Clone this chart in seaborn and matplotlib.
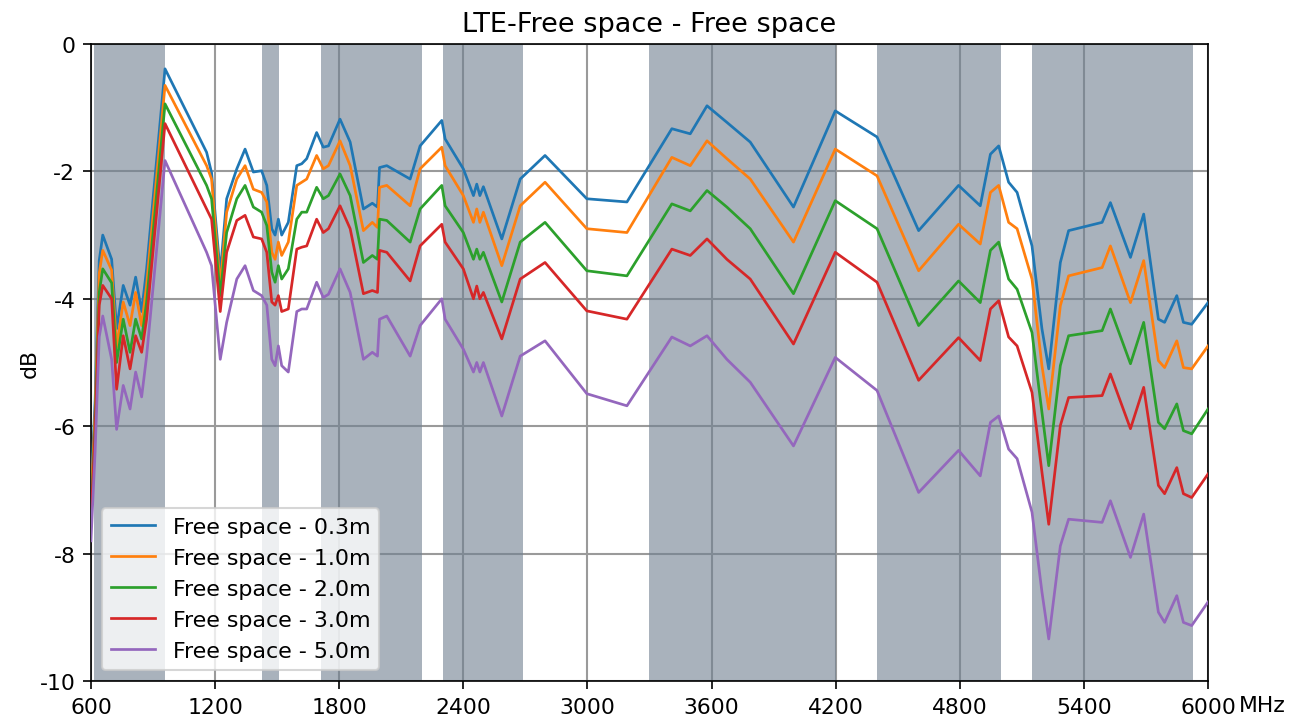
import matplotlib
matplotlib.use("Agg")
import matplotlib.pyplot as plt
import seaborn as sns
import pandas as pd

plt.rcParams['axes.unicode_minus'] = False

# measured frequencies (MHz)
freq = [600, 620, 640, 657, 700, 724, 756, 789, 816, 845,
        869, 958, 1159, 1183, 1225, 1256, 1305, 1345, 1385, 1425,
        1450, 1474, 1490, 1506, 1522, 1554, 1595, 1619, 1643, 1691,
        1723, 1748, 1804, 1853, 1917, 1960, 1985, 1995, 2030, 2143,
        2191, 2296, 2312, 2400, 2449, 2465, 2480, 2497, 2586, 2675,
        2795, 2997, 3191, 3408, 3497, 3578, 3674, 3787, 3996, 4198,
        4400, 4601, 4794, 4899, 4948, 4988, 5036, 5077, 5149, 5197,
        5230, 5286, 5326, 5488, 5528, 5625, 5689, 5760, 5790, 5849,
        5881, 5921, 6000]

fs_03 = [-7.0, -5.6, -3.4, -3.0, -3.38, -4.47, -3.79, -4.1, -3.66, -4.2,
         -3.53, -0.39, -1.7, -2.02, -3.6, -2.43, -1.96, -1.65, -2.01, -1.99,
         -2.22, -2.9, -3.0, -2.75, -3.0, -2.8, -1.91, -1.88, -1.8, -1.39,
         -1.62, -1.6, -1.18, -1.54, -2.59, -2.5, -2.56, -1.94, -1.91, -2.12,
         -1.6, -1.2, -1.49, -1.96, -2.38, -2.2, -2.38, -2.24, -3.06, -2.12,
         -1.75, -2.43, -2.48, -1.33, -1.41, -0.97, -1.23, -1.54, -2.56, -1.05,
         -1.46, -2.93, -2.22, -2.54, -1.73, -1.6, -2.17, -2.33, -3.17, -4.47,
         -5.1, -3.43, -2.93, -2.8, -2.49, -3.35, -2.67, -4.32, -4.37, -3.95,
         -4.37, -4.4, -4.06]

fs_10 = [-7.2, -5.8, -3.6, -3.24, -3.55, -4.76, -4.05, -4.42, -3.9, -4.42,
         -3.79, -0.65, -1.91, -2.12, -3.8, -2.64, -2.12, -1.91, -2.28, -2.33,
         -2.48, -3.27, -3.38, -3.11, -3.32, -3.11, -2.22, -2.17, -2.12, -1.75,
         -1.96, -1.91, -1.52, -1.91, -2.93, -2.8, -2.88, -2.25, -2.22, -2.54,
         -1.96, -1.62, -1.91, -2.38, -2.8, -2.59, -2.8, -2.64, -3.48, -2.54,
         -2.17, -2.9, -2.96, -1.78, -1.91, -1.52, -1.8, -2.12, -3.11, -1.65,
         -2.07, -3.56, -2.83, -3.14, -2.33, -2.22, -2.8, -2.9, -3.69, -5.05,
         -5.73, -4.11, -3.64, -3.51, -3.17, -4.06, -3.4, -4.97, -5.08, -4.66,
         -5.08, -5.1, -4.74]

fs_20 = [-7.4, -6.0, -3.9, -3.53, -3.75, -5.0, -4.32, -4.84, -4.32, -4.63,
         -4.05, -0.94, -2.22, -2.43, -3.95, -2.96, -2.43, -2.22, -2.56, -2.64,
         -2.85, -3.58, -3.74, -3.48, -3.69, -3.53, -2.75, -2.64, -2.64, -2.25,
         -2.43, -2.38, -2.04, -2.38, -3.43, -3.32, -3.38, -2.75, -2.77, -3.11,
         -2.59, -2.22, -2.54, -2.96, -3.38, -3.22, -3.38, -3.27, -4.05, -3.11,
         -2.8, -3.56, -3.64, -2.51, -2.62, -2.3, -2.56, -2.9, -3.92, -2.46,
         -2.9, -4.42, -3.72, -4.06, -3.24, -3.11, -3.69, -3.85, -4.53, -5.78,
         -6.62, -5.05, -4.58, -4.5, -4.16, -5.02, -4.37, -5.94, -6.04, -5.65,
         -6.07, -6.12, -5.73]

fs_30 = [-7.5, -6.1, -4.1, -3.79, -4.0, -5.42, -4.58, -5.1, -4.58, -4.84,
         -4.32, -1.25, -2.59, -2.75, -4.2, -3.27, -2.77, -2.69, -3.03, -3.06,
         -3.27, -4.05, -4.1, -3.95, -4.2, -4.16, -3.22, -3.19, -3.17, -2.75,
         -2.96, -2.9, -2.54, -2.9, -3.92, -3.87, -3.9, -3.24, -3.27, -3.72,
         -3.17, -2.83, -3.11, -3.53, -4.0, -3.8, -4.0, -3.9, -4.63, -3.69,
         -3.43, -4.19, -4.32, -3.22, -3.32, -3.06, -3.38, -3.69, -4.71, -3.27,
         -3.74, -5.28, -4.61, -4.97, -4.16, -4.03, -4.6, -4.74, -5.47, -6.72,
         -7.54, -5.99, -5.55, -5.52, -5.18, -6.04, -5.39, -6.93, -7.06, -6.65,
         -7.06, -7.12, -6.75]

fs_50 = [-7.8, -6.4, -4.6, -4.27, -4.95, -6.05, -5.36, -5.73, -5.15, -5.54,
         -4.9, -1.83, -3.27, -3.48, -4.95, -4.37, -3.69, -3.48, -3.87, -3.95,
         -4.1, -4.95, -5.05, -4.74, -5.05, -5.15, -4.2, -4.16, -4.16, -3.74,
         -3.98, -3.93, -3.53, -3.9, -4.95, -4.84, -4.9, -4.32, -4.27, -4.9,
         -4.42, -4.0, -4.32, -4.79, -5.15, -5.0, -5.15, -5.0, -5.84, -4.9,
         -4.66, -5.49, -5.68, -4.6, -4.74, -4.58, -4.95, -5.31, -6.31, -4.92,
         -5.44, -7.04, -6.38, -6.78, -5.94, -5.84, -6.36, -6.51, -7.35, -8.6,
         -9.34, -7.88, -7.46, -7.51, -7.17, -8.06, -7.38, -8.92, -9.08, -8.66,
         -9.08, -9.13, -8.76]

labels = ['Free space - 0.3m', 'Free space - 1.0m', 'Free space - 2.0m',
          'Free space - 3.0m', 'Free space - 5.0m']

# LTE bands (MHz)
bands = [(617, 960), (1427, 1511), (1710, 2200), (2300, 2690),
         (3300, 4200), (4400, 5000), (5150, 5925)]

frames = []
for lab, vals in zip(labels, [fs_03, fs_10, fs_20, fs_30, fs_50]):
    frames.append(pd.DataFrame({'MHz': freq, 'dB': vals, 'series': lab}))
df = pd.concat(frames, ignore_index=True)

fig, ax = plt.subplots(figsize=(8.7, 4.8133), dpi=150)
fig.subplots_adjust(left=0.0697, right=0.9257, top=0.9377, bottom=0.0554)

for lo, hi in bands:
    ax.axvspan(lo, hi, color='slategray', alpha=0.6, lw=0, zorder=1)

sns.lineplot(data=df, x='MHz', y='dB', hue='series', palette='tab10',
             estimator=None, linewidth=1.3, ax=ax, zorder=3)

ax.set_xlim(600, 6000)
ax.set_ylim(-10, 0)
ax.set_xticks(range(600, 6001, 600))
ax.set_yticks(range(-10, 1, 2))
ax.grid(True, color='#9a9a9a', linewidth=1.0, zorder=0)
ax.set_axisbelow(True)
ax.tick_params(labelsize=10.5, length=4)
ax.set_xlabel('')
ax.set_ylabel('dB', fontsize=10.5, labelpad=0)
ax.text(1.028, -0.022, 'MHz', transform=ax.transAxes, ha='left', va='top',
        fontsize=10.5)
ax.set_title('LTE-Free space - Free space', fontsize=13)
ax.legend(loc='lower left', fontsize=10.6, labelspacing=0.5, title=None)

fig.savefig('out.png', dpi=150)
